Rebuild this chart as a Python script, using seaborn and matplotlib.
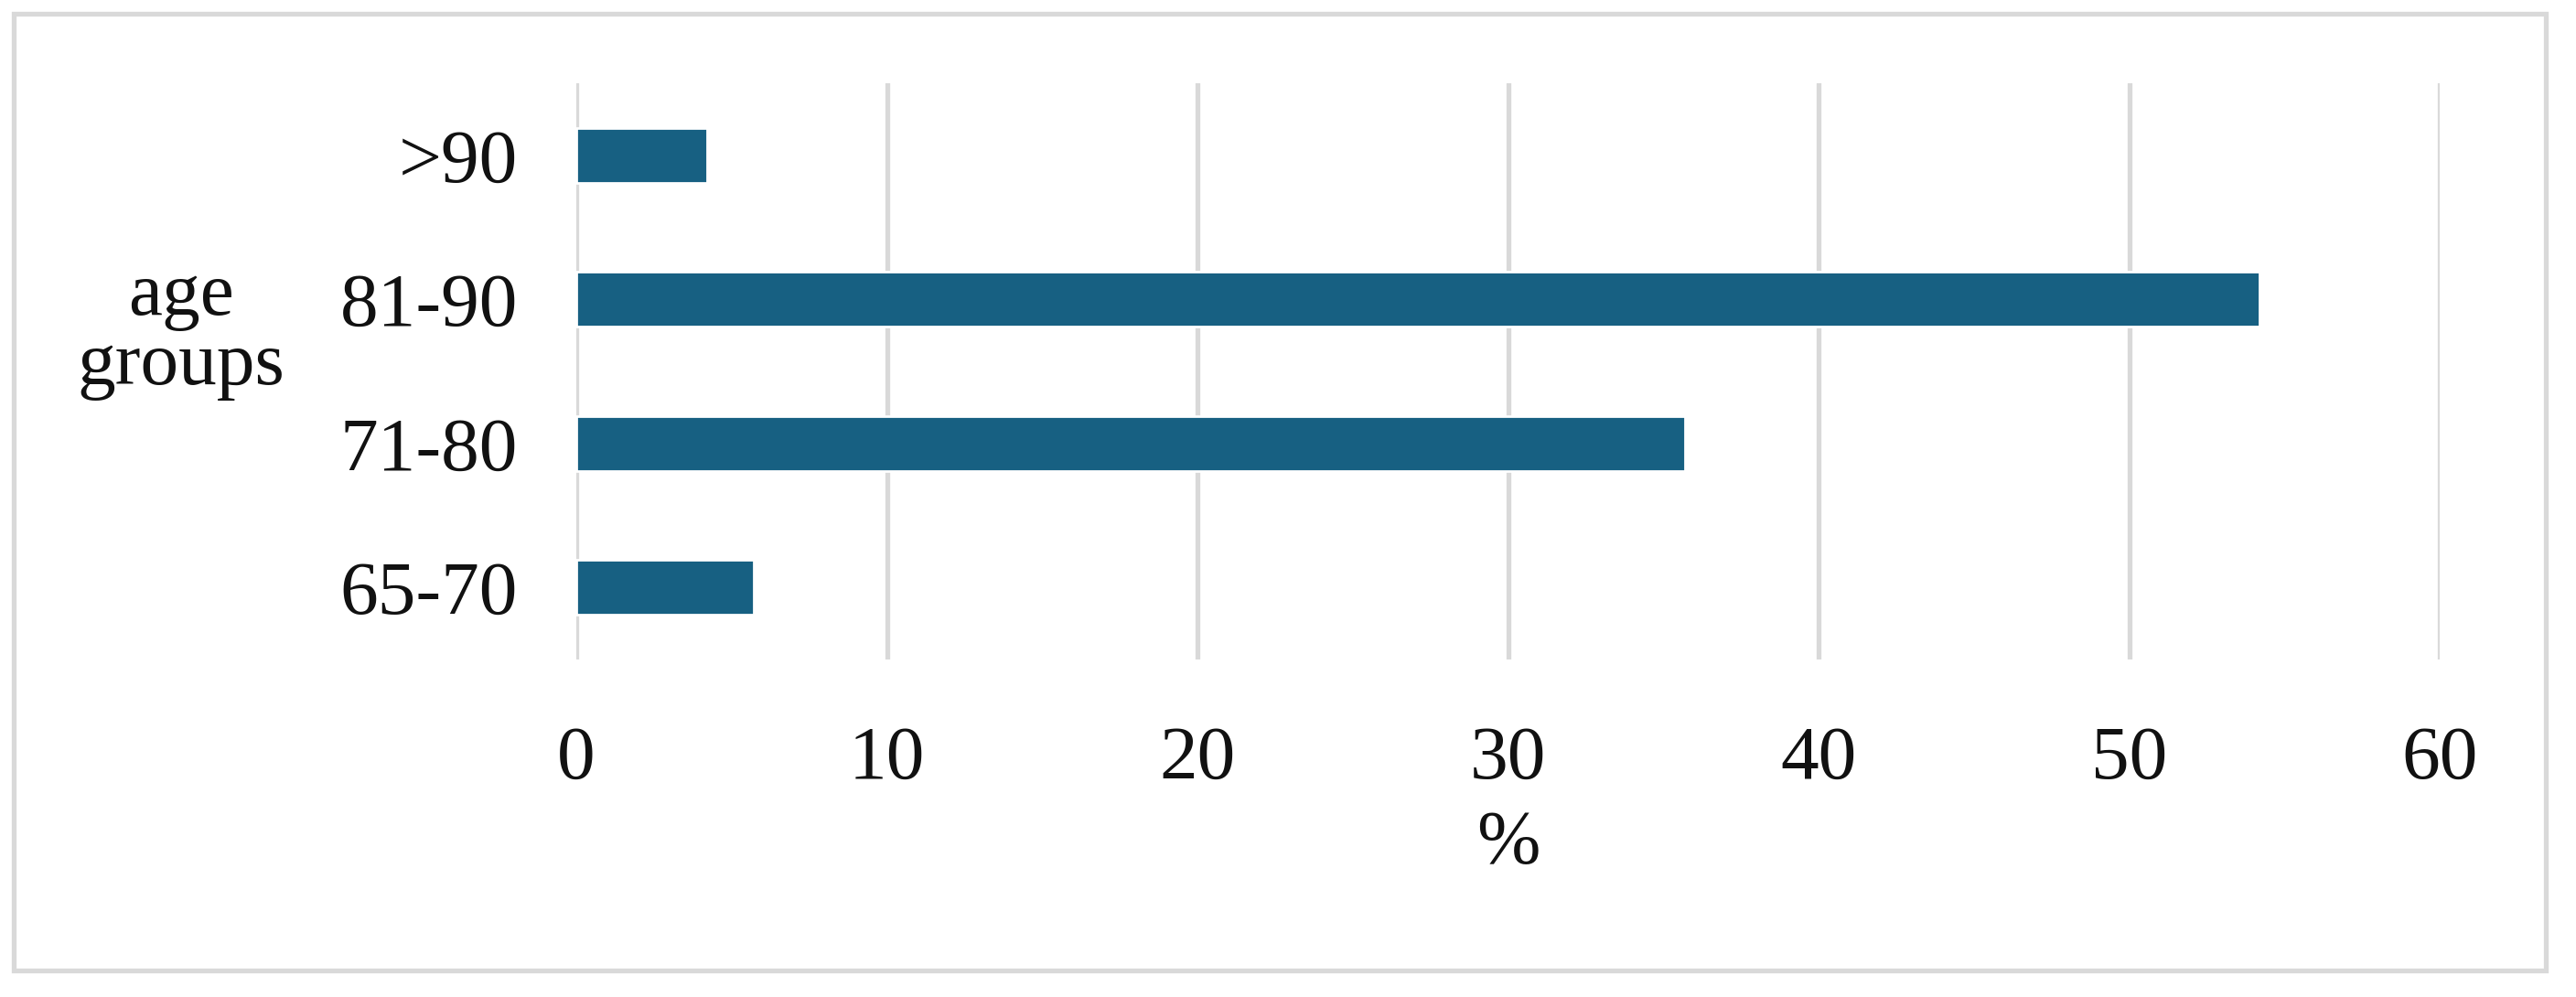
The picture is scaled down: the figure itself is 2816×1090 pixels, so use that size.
import matplotlib
matplotlib.use("Agg")
import matplotlib.pyplot as plt
import seaborn as sns
import pandas as pd
from matplotlib.patches import Rectangle

# Data (top to bottom as shown)
age_groups = [">90", "81-90", "71-80", "65-70"]
percent = [4.2, 54.2, 35.7, 5.7]
x_ticks = [0, 10, 20, 30, 40, 50, 60]

df = pd.DataFrame({"age": age_groups, "pct": percent})

sns.set_style("white")
plt.rcParams["font.family"] = ["Liberation Serif", "DejaVu Serif"]

W, H = 2816, 1090
dpi = 200
fig = plt.figure(figsize=(W / dpi, H / dpi), dpi=dpi)
ax = fig.add_axes([630 / W, 1 - 721 / H, (2667 - 630) / W, (721 - 91) / H])

sns.barplot(data=df, x="pct", y="age", order=age_groups, color="#176082",
            width=0.38, saturation=1, ax=ax)

ax.set_xlim(0, 60)
ax.set_ylim(3.5, -0.5)
ax.set_xticks(x_ticks)
ax.xaxis.grid(True, color="#D9D9D9", linewidth=1.9)
ax.set_axisbelow(True)
for s in ax.spines.values():
    s.set_visible(False)

ax.tick_params(axis="x", length=0, pad=26, labelsize=30, labelcolor="#111111")
ax.tick_params(axis="y", length=0, pad=23, labelsize=30, labelcolor="#111111")
ax.set_xlabel("%", fontsize=30, color="#111111", labelpad=6)
ax.set_ylabel("")

fig.text(198 / W, 1 - 362 / H, "age\ngroups", fontsize=30, color="#111111",
         ha="center", va="center", linespacing=1.0)

# outer chart border
fig.patches.append(Rectangle((15 / W, 1 - 1061 / H), (2783 - 15) / W, (1061 - 15) / H,
                             transform=fig.transFigure, fill=False,
                             edgecolor="#D9D9D9", linewidth=1.9))

fig.savefig("out.png", dpi=dpi, facecolor="white")
